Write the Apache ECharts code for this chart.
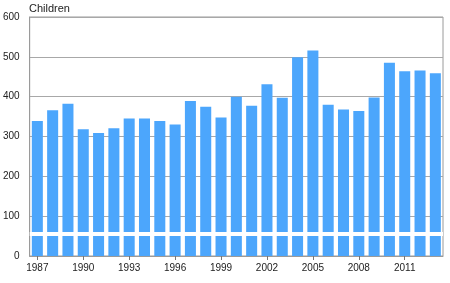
<!DOCTYPE html>
<html><head><meta charset="utf-8">
<script src="https://cdn.jsdelivr.net/npm/echarts@6/dist/echarts.min.js"></script>
<style>html,body{margin:0;padding:0;background:#fff}#c{width:450px;height:283px}</style>
</head><body><div id="c"></div>
<script>
const years = ['1987','1988','1989','1990','1991','1992','1993','1994','1995','1996','1997','1998','1999','2000','2001','2002','2003','2004','2005','2006','2007','2008','2009','2010','2011','2012','2013'];
const children = [339,366,382,318,309,321,345,345,339,330,389,375,348,400,377,431,397,499,516,380,368,364,398,485,464,466,459];
const yTicks = [0,100,200,300,400,500,600];
const breakValue = 55;

const chart = echarts.init(document.getElementById('c'), null, {renderer:'canvas'});
chart.setOption({
  animation:false,
  backgroundColor:'#fff',
  textStyle:{fontFamily:'Liberation Sans, Arial, sans-serif'},
  grid:{left:29,right:7,top:17,bottom:27,show:true,borderColor:'#9a9a9a',borderWidth:1},
  graphic:[{type:'text',left:29,top:3,style:{text:'Children',fontSize:11,fill:'#222',fontFamily:'Liberation Sans, Arial, sans-serif'}}],
  xAxis:{type:'category',data:years,
    axisLine:{lineStyle:{color:'#9a9a9a'}},
    axisTick:{show:true,alignWithLabel:true,interval:2,length:4,lineStyle:{color:'#777'}},
    axisLabel:{interval:2,fontSize:10,color:'#222',margin:7}},
  yAxis:{type:'value',min:yTicks[0],max:yTicks[yTicks.length-1],interval:100,
    axisLine:{show:true,lineStyle:{color:'#9a9a9a'}},
    axisTick:{show:false},
    axisLabel:{fontSize:10,color:'#222',margin:10},
    splitLine:{lineStyle:{color:'#a8a8a8'}}},
  series:[{type:'bar',data:children,barCategoryGap:'28%',
    itemStyle:{color:'#4ca6fc'},
    markLine:{silent:true,symbol:'none',label:{show:false},
      lineStyle:{color:'#fff',width:4,type:'solid'},
      data:[{yAxis:breakValue}]}
  }]
});
</script></body></html>
